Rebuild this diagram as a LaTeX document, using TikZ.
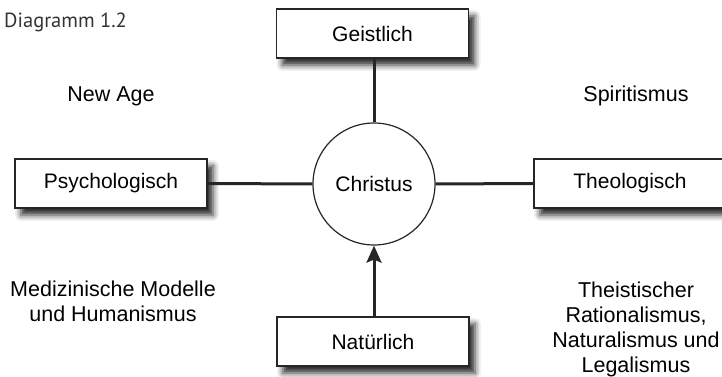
\documentclass[tikz,border=0pt]{standalone}
\usepackage{fontspec}
\setmainfont{Liberation Sans}
\newfontfamily\captfont{PT Sans}
\usetikzlibrary{shadows.blur,arrows.meta}
\begin{document}
\begin{tikzpicture}[x=1pt,y=1pt,
  box/.style={draw=black!85, line width=1.6pt, fill=white, minimum width=192pt, minimum height=49pt, inner sep=0pt,
    font=\fontsize{21}{25}\selectfont,
    blur shadow={shadow xshift=6pt, shadow yshift=-7pt, shadow blur radius=6pt, shadow opacity=85}},
  lbl/.style={font=\fontsize{21.5}{25}\selectfont, align=center, inner sep=0pt},
  conn/.style={line width=3pt, draw=black!85}]
\useasboundingbox (0,0) rectangle (722,377);
\node[draw=black!85, line width=1.2pt, circle, minimum size=122pt, inner sep=0pt, fill=white,
  font=\fontsize{21}{25}\selectfont] (c) at (374,193) {Christus};
\node[box] (g) at (372.5,343.5) {Geistlich};
\node[box] (p) at (111,193.5) {Psychologisch};
\node[box] (t) at (630,193.5) {Theologisch};
\node[box] (n) at (373,35.5) {Natürlich};
\draw[conn] (g.south -| c.north) -- (c.north);
\draw[conn] (p.east) -- (c.west);
\draw[conn] (c.east) -- (t.west);
\draw[conn, -{Stealth[length=17pt,width=15pt,inset=3pt]}] (n.north -| c.south) -- (c.south);
\node[anchor=west, inner sep=0pt, text=black!80, font=\captfont\fontsize{20.5}{22}\selectfont] (cap) at (4,355) {Diagramm 1.2};
\node[lbl] (na) at (111,281) {New Age};
\node[lbl] (sp) at (636,281) {Spiritismus};
\node[lbl] (mm) at (113,76) {Medizinische Modelle\\und Humanismus};
\node[lbl] (th) at (636,48) {Theistischer\\Rationalismus,\\Naturalismus und\\Legalismus};
\end{tikzpicture}
\end{document}
